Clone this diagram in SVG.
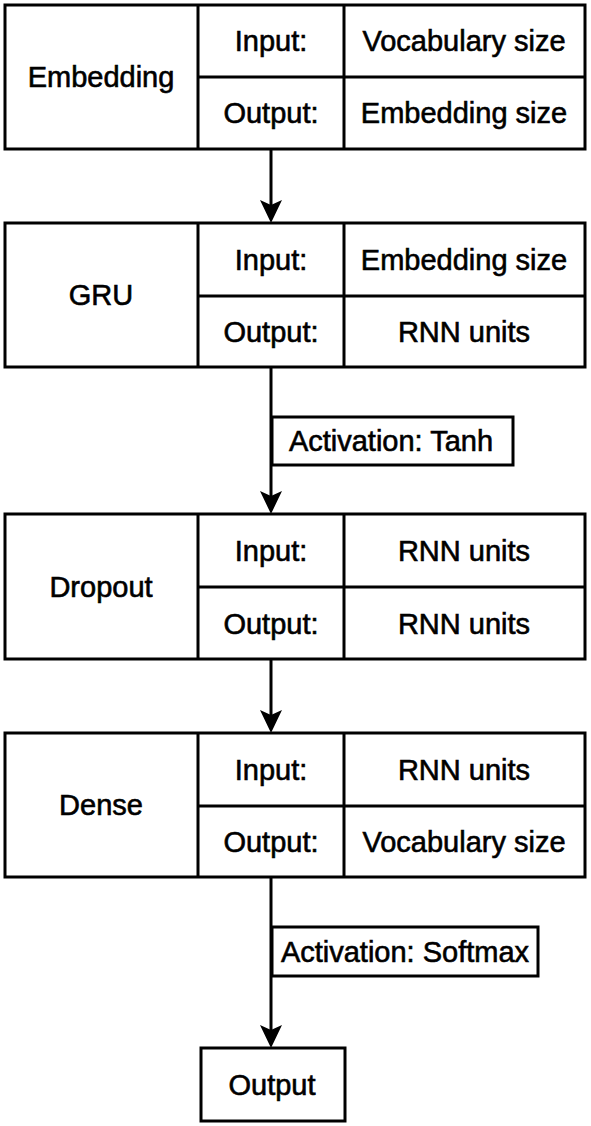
<svg xmlns="http://www.w3.org/2000/svg" width="591" height="1126" viewBox="0 0 591 1126">
<style>
.b{fill:#fff;stroke:#000;stroke-width:3}
.l{stroke:#000;stroke-width:3;fill:none}
.ah{fill:#000}
text{font-family:"Liberation Sans",Arial,sans-serif;font-size:29px;fill:#000;stroke:#000;stroke-width:0.6;text-anchor:middle}
</style>
<rect width="591" height="1126" fill="#fff"/>
<g id="connectors">
<path class="l" d="M271,149 V211"/>
<path class="ah" d="M271,223 L260,200 L271,205 L282,200 Z"/>
<path class="l" d="M271,367 V502"/>
<path class="ah" d="M271,514 L260,491 L271,496 L282,491 Z"/>
<path class="l" d="M271,659 V721"/>
<path class="ah" d="M271,733 L260,710 L271,715 L282,710 Z"/>
<path class="l" d="M271,877 V1036"/>
<path class="ah" d="M271,1048 L260,1025 L271,1030 L282,1025 Z"/>
</g>
<g id="embedding">
<rect class="b" x="5" y="5" width="580" height="144"/>
<path class="l" d="M198,5 V149 M344,5 V149 M198,77 H585"/>
<text x="101" y="87">Embedding</text>
<text x="271" y="51">Input:</text>
<text x="271" y="123">Output:</text>
<text x="464" y="51">Vocabulary size</text>
<text x="464" y="123">Embedding size</text>
</g>
<g id="gru">
<rect class="b" x="5" y="223" width="580" height="144"/>
<path class="l" d="M198,223 V367 M344,223 V367 M198,296 H585"/>
<text x="101" y="305">GRU</text>
<text x="271" y="270">Input:</text>
<text x="271" y="342">Output:</text>
<text x="464" y="270">Embedding size</text>
<text x="464" y="342">RNN units</text>
</g>
<g id="act-tanh">
<rect class="b" x="272" y="417" width="241" height="48"/>
<text x="391" y="451">Activation: Tanh</text>
</g>
<g id="dropout">
<rect class="b" x="5" y="514" width="580" height="145"/>
<path class="l" d="M198,514 V659 M344,514 V659 M198,587 H585"/>
<text x="101" y="597">Dropout</text>
<text x="271" y="561">Input:</text>
<text x="271" y="634">Output:</text>
<text x="464" y="561">RNN units</text>
<text x="464" y="634">RNN units</text>
</g>
<g id="dense">
<rect class="b" x="5" y="733" width="580" height="144"/>
<path class="l" d="M198,733 V877 M344,733 V877 M198,806 H585"/>
<text x="101" y="815">Dense</text>
<text x="271" y="780">Input:</text>
<text x="271" y="852">Output:</text>
<text x="464" y="780">RNN units</text>
<text x="464" y="852">Vocabulary size</text>
</g>
<g id="act-softmax">
<rect class="b" x="272" y="927" width="266" height="49"/>
<text x="405" y="962">Activation: Softmax</text>
</g>
<g id="output">
<rect class="b" x="201" y="1048" width="144" height="73"/>
<text x="272" y="1095">Output</text>
</g>
</svg>
